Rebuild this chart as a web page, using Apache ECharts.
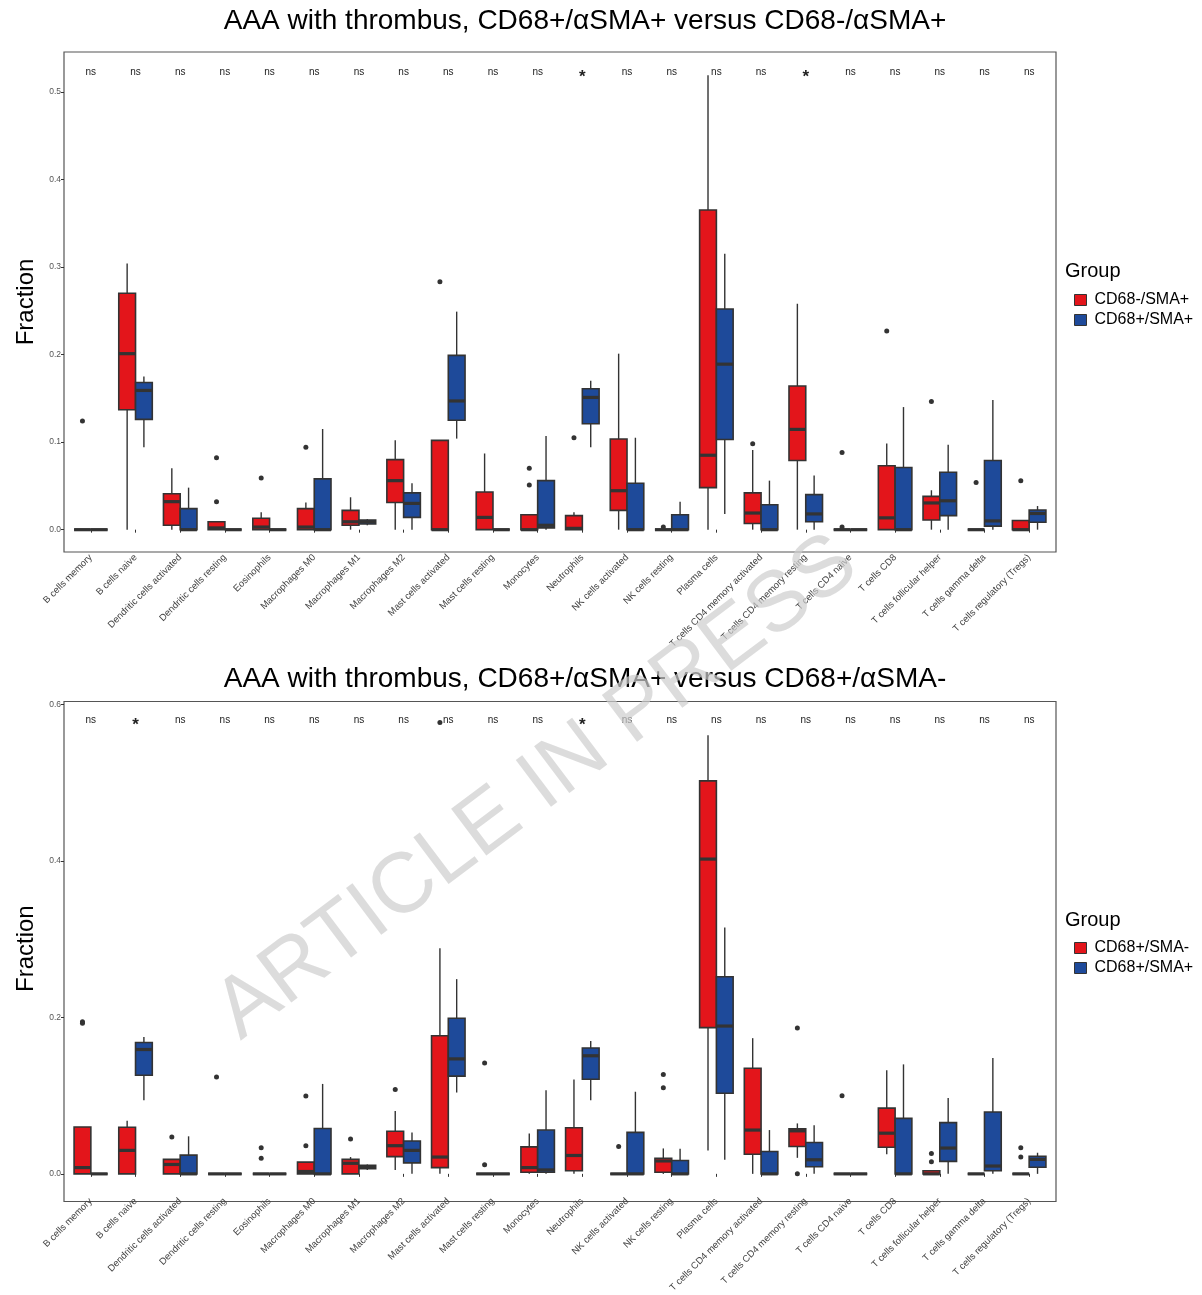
<!DOCTYPE html>
<html>
<head>
<meta charset="utf-8">
<title>AAA with thrombus - immune cell fractions</title>
<script src="https://cdn.jsdelivr.net/npm/echarts@6.0.0/dist/echarts.min.js"></script>
<style>
html, body { margin: 0; padding: 0; background: #fff; }
#chart { width: 1202px; height: 1295px; }
</style>
</head>
<body>
<div id="chart"></div>
<script>
// cell types on the x axis (same for both panels)
var cellTypes = ['B cells memory', 'B cells naive', 'Dendritic cells activated', 'Dendritic cells resting',
  'Eosinophils', 'Macrophages M0', 'Macrophages M1', 'Macrophages M2', 'Mast cells activated',
  'Mast cells resting', 'Monocytes', 'Neutrophils', 'NK cells activated', 'NK cells resting',
  'Plasma cells', 'T cells CD4 memory activated', 'T cells CD4 memory resting', 'T cells CD4 naive',
  'T cells CD8', 'T cells follicular helper', 'T cells gamma delta', 'T cells regulatory (Tregs)'];

// significance labels
var sigTop = ['ns','ns','ns','ns','ns','ns','ns','ns','ns','ns','ns','*','ns','ns','ns','ns','*','ns','ns','ns','ns','ns'];
var sigBottom = ['ns','*','ns','ns','ns','ns','ns','ns','ns','ns','ns','*','ns','ns','ns','ns','ns','ns','ns','ns','ns','ns'];

// box stats per cell type: [min, Q1, median, Q3, max]
// CD68+/SMA+ (blue, shared by both panels)
var boxPosPos = [
  [0, 0, 0, 0, 0], [0.094, 0.126, 0.159, 0.168, 0.175], [0, 0, 0, 0.024, 0.048], [0, 0, 0, 0, 0],
  [0, 0, 0, 0, 0], [0, 0, 0, 0.058, 0.115], [0.005, 0.0065, 0.009, 0.011, 0.012], [0, 0.014, 0.030, 0.042, 0.053],
  [0.104, 0.125, 0.147, 0.199, 0.249], [0, 0, 0, 0, 0], [0, 0.002, 0.005, 0.056, 0.107], [0.094, 0.121, 0.151, 0.161, 0.170],
  [0, 0, 0, 0.053, 0.105], [0, 0, 0, 0.017, 0.032], [0.018, 0.103, 0.189, 0.252, 0.315], [0, 0, 0, 0.0285, 0.056],
  [0, 0.009, 0.018, 0.040, 0.062], [0, 0, 0, 0, 0], [0, 0, 0, 0.071, 0.140], [0, 0.016, 0.033, 0.0655, 0.097],
  [0, 0.004, 0.010, 0.079, 0.148], [0, 0.0085, 0.0185, 0.0225, 0.027]
];
// CD68-/SMA+ (red, top panel)
var boxNegPos = [
  [0, 0, 0, 0, 0], [0, 0.137, 0.201, 0.270, 0.304], [0, 0.005, 0.032, 0.041, 0.070], [0, 0, 0.002, 0.009, 0.009],
  [0, 0, 0.003, 0.013, 0.020], [0, 0, 0.003, 0.024, 0.031], [0, 0.005, 0.009, 0.022, 0.037], [0, 0.031, 0.056, 0.080, 0.102],
  [0, 0, 0, 0.102, 0.102], [0, 0, 0.014, 0.043, 0.087], [0, 0, 0, 0.017, 0.017], [0, 0, 0.0015, 0.016, 0.020],
  [0, 0.022, 0.0445, 0.1035, 0.201], [0, 0, 0, 0, 0], [0, 0.048, 0.085, 0.365, 0.519], [0, 0.007, 0.019, 0.042, 0.091],
  [0, 0.079, 0.1145, 0.164, 0.258], [0, 0, 0, 0, 0], [0, 0, 0.0135, 0.073, 0.0985], [0, 0.011, 0.0305, 0.038, 0.045],
  [0, 0, 0, 0, 0], [0, 0, 0, 0.0105, 0.0105]
];
// CD68+/SMA- (red, bottom panel)
var boxPosNeg = [
  [0, 0, 0.008, 0.060, 0.060], [0, 0, 0.030, 0.0595, 0.068], [0, 0, 0.012, 0.0185, 0.0185], [0, 0, 0, 0, 0],
  [0, 0, 0, 0, 0], [0, 0, 0.003, 0.015, 0.015], [0, 0, 0.0135, 0.0185, 0.0215], [0.005, 0.022, 0.036, 0.0545, 0.0805],
  [0, 0.008, 0.0215, 0.1765, 0.2885], [0, 0, 0, 0, 0], [0, 0.002, 0.008, 0.0345, 0.0515], [0, 0.004, 0.0235, 0.059, 0.1205],
  [0, 0, 0, 0, 0], [0, 0.002, 0.0165, 0.020, 0.0325], [0.030, 0.187, 0.4025, 0.5025, 0.561], [0, 0.025, 0.056, 0.135, 0.1735],
  [0.0205, 0.035, 0.055, 0.0575, 0.0645], [0, 0, 0, 0, 0], [0.025, 0.034, 0.052, 0.084, 0.1325], [0, 0, 0, 0.004, 0.004],
  [0, 0, 0, 0, 0], [0, 0, 0, 0, 0]
];

// outliers: [cell type index, value]
var outNegPos = [[0, 0.124], [3, 0.082], [3, 0.032], [4, 0.059], [5, 0.094], [8, 0.283], [10, 0.070], [10, 0.051],
  [11, 0.105], [13, 0.003], [15, 0.098], [17, 0.088], [17, 0.003], [18, 0.227], [19, 0.1465], [20, 0.054], [21, 0.056]];
var outPosNeg = [[0, 0.1945], [0, 0.1925], [2, 0.047], [3, 0.124], [4, 0.0335], [4, 0.020], [5, 0.0995], [5, 0.036],
  [6, 0.0445], [7, 0.108], [8, 0.577], [9, 0.1418], [9, 0.0118], [12, 0.035], [13, 0.127], [13, 0.110],
  [16, 0.1865], [16, 0], [17, 0.100], [19, 0.026], [19, 0.0155], [21, 0.0335], [21, 0.0215]];

var yTicksTop = [0, 0.1, 0.2, 0.3, 0.4, 0.5];
var yTicksBottom = [0, 0.2, 0.4, 0.6];

var RED = '#E3151B', BLUE = '#1E4A9A', LINE = '#333333';
var FONT = 'Liberation Sans, Arial, Helvetica, sans-serif';

// each box takes 0.375 of a category (ggplot dodge of width 0.75)
function boxItem(side) {
  return function (params, api) {
    var cat = api.value(0);
    var half = api.size([1, 0])[0] * 0.1875;
    var cx = api.coord([cat, 0])[0] + side * half;
    var p = [1, 2, 3, 4, 5].map(function (i) { return api.coord([cat, api.value(i)])[1]; });
    var ls = { stroke: LINE, lineWidth: 1.4 };
    return {
      type: 'group',
      children: [
        { type: 'line', shape: { x1: cx, y1: p[0], x2: cx, y2: p[1] }, style: ls },
        { type: 'line', shape: { x1: cx, y1: p[3], x2: cx, y2: p[4] }, style: ls },
        { type: 'rect', shape: { x: cx - half, y: p[3], width: half * 2, height: p[1] - p[3] },
          style: { fill: api.visual('color'), stroke: LINE, lineWidth: 1.6 } },
        { type: 'line', shape: { x1: cx - half, y1: p[2], x2: cx + half, y2: p[2] },
          style: { stroke: LINE, lineWidth: 3.2 } }
      ]
    };
  };
}

function dotItem(side) {
  return function (params, api) {
    var cat = api.value(0);
    var half = api.size([1, 0])[0] * 0.1875;
    var pt = api.coord([cat, api.value(1)]);
    return { type: 'circle', shape: { cx: pt[0] + side * half, cy: pt[1], r: 2.5 }, style: { fill: LINE } };
  };
}

function sigItem(labels, level) {
  return function (params, api) {
    var i = api.value(0);
    var pt = api.coord([i, level]);
    var star = labels[i] === '*';
    return {
      type: 'text', x: pt[0], y: pt[1] + (star ? 6 : 1),
      style: { text: labels[i], align: 'center', verticalAlign: 'middle', fill: '#222',
        fontSize: star ? 17 : 10, fontWeight: star ? 'bold' : 'normal', fontFamily: FONT }
    };
  };
}

function rows(boxes) { return boxes.map(function (b, i) { return [i].concat(b); }); }
var catIdx = cellTypes.map(function (c, i) { return [i]; });

function xAxisFor(grid) {
  return {
    type: 'category', gridIndex: grid, data: cellTypes,
    axisLine: { show: false },
    axisTick: { show: true, alignWithLabel: true, length: 3, lineStyle: { color: LINE } },
    axisLabel: { rotate: 45, interval: 0, fontSize: 9.5, color: '#444', margin: 4, fontFamily: FONT },
    splitLine: { show: false }
  };
}
function yAxisFor(grid, min, max, ticks) {
  return {
    type: 'value', gridIndex: grid, min: min, max: max, offset: 4.5,
    name: 'Fraction', nameLocation: 'middle', nameGap: 26,
    nameTextStyle: { fontSize: 24, color: '#000', fontFamily: FONT },
    axisLine: { show: false },
    axisTick: { show: true, length: 3, customValues: ticks, lineStyle: { color: LINE } },
    axisLabel: { customValues: ticks, fontSize: 8.5, color: '#555', margin: 3, fontFamily: FONT,
      formatter: function (v) { return v.toFixed(1); } },
    splitLine: { show: false }
  };
}

var chart = echarts.init(document.getElementById('chart'), null, { renderer: 'canvas' });
var option = {
  backgroundColor: '#fff',
  animation: false,
  textStyle: { fontFamily: FONT },
  title: [
    { text: 'AAA with thrombus, CD68+/\u03b1SMA+ versus CD68-/\u03b1SMA+', left: 580, top: 2, textAlign: 'center',
      textStyle: { fontSize: 28, fontWeight: 'normal', color: '#000', fontFamily: FONT } },
    { text: 'AAA with thrombus, CD68+/\u03b1SMA+ versus CD68+/\u03b1SMA-', left: 580, top: 660, textAlign: 'center',
      textStyle: { fontSize: 28, fontWeight: 'normal', color: '#000', fontFamily: FONT } },
    { text: 'Group', left: 1060, top: 256, textStyle: { fontSize: 20, fontWeight: 'normal', color: '#000', fontFamily: FONT } },
    { text: 'Group', left: 1060, top: 905, textStyle: { fontSize: 20, fontWeight: 'normal', color: '#000', fontFamily: FONT } }
  ],
  legend: [
    { data: ['CD68-/SMA+', 'CD68+/SMA+'], orient: 'vertical', left: 1074, top: 292, padding: 0,
      icon: 'rect', itemWidth: 12, itemHeight: 11, itemGap: 4, selectedMode: false,
      itemStyle: { borderColor: LINE, borderWidth: 1 },
      textStyle: { fontSize: 16, color: '#000', fontFamily: FONT, padding: [0, 0, 0, 3] } },
    { data: ['CD68+/SMA-', 'CD68+/SMA+'], orient: 'vertical', left: 1074, top: 940, padding: 0,
      icon: 'rect', itemWidth: 12, itemHeight: 11, itemGap: 4, selectedMode: false,
      itemStyle: { borderColor: LINE, borderWidth: 1 },
      textStyle: { fontSize: 16, color: '#000', fontFamily: FONT, padding: [0, 0, 0, 3] } }
  ],
  grid: [
    { left: 64, top: 52, width: 992, height: 500, show: true, borderColor: '#555', borderWidth: 1.2, backgroundColor: 'transparent' },
    { left: 68.5, top: 52, width: 983, height: 500 },
    { left: 64, top: 701.5, width: 992, height: 500, show: true, borderColor: '#555', borderWidth: 1.2, backgroundColor: 'transparent' },
    { left: 68.5, top: 701.5, width: 983, height: 500 }
  ],
  xAxis: [xAxisFor(1), xAxisFor(3)],
  yAxis: [yAxisFor(1, -0.0255, 0.5455, yTicksTop), yAxisFor(3, -0.028, 0.604, yTicksBottom)],
  series: [
    { type: 'custom', name: 'CD68-/SMA+', xAxisIndex: 0, yAxisIndex: 0, itemStyle: { color: RED },
      renderItem: boxItem(-1), encode: { x: 0, y: [1, 2, 3, 4, 5] }, data: rows(boxNegPos) },
    { type: 'custom', name: 'CD68+/SMA+', xAxisIndex: 0, yAxisIndex: 0, itemStyle: { color: BLUE },
      renderItem: boxItem(1), encode: { x: 0, y: [1, 2, 3, 4, 5] }, data: rows(boxPosPos) },
    { type: 'custom', name: 'CD68-/SMA+', xAxisIndex: 0, yAxisIndex: 0, itemStyle: { color: RED },
      renderItem: dotItem(-1), encode: { x: 0, y: 1 }, data: outNegPos, z: 3 },
    { type: 'custom', xAxisIndex: 0, yAxisIndex: 0, renderItem: sigItem(sigTop, 0.523),
      encode: { x: 0 }, data: catIdx, silent: true },

    { type: 'custom', name: 'CD68+/SMA-', xAxisIndex: 1, yAxisIndex: 1, itemStyle: { color: RED },
      renderItem: boxItem(-1), encode: { x: 0, y: [1, 2, 3, 4, 5] }, data: rows(boxPosNeg) },
    { type: 'custom', name: 'CD68+/SMA+', xAxisIndex: 1, yAxisIndex: 1, itemStyle: { color: BLUE },
      renderItem: boxItem(1), encode: { x: 0, y: [1, 2, 3, 4, 5] }, data: rows(boxPosPos) },
    { type: 'custom', name: 'CD68+/SMA-', xAxisIndex: 1, yAxisIndex: 1, itemStyle: { color: RED },
      renderItem: dotItem(-1), encode: { x: 0, y: 1 }, data: outPosNeg, z: 3 },
    { type: 'custom', xAxisIndex: 1, yAxisIndex: 1, renderItem: sigItem(sigBottom, 0.581),
      encode: { x: 0 }, data: catIdx, silent: true }
  ],
  graphic: [
    { type: 'text', x: 537, y: 788, rotation: 37 * Math.PI / 180, z: 100, silent: true,
      style: { text: 'ARTICLE IN PRESS', fontSize: 85, fontFamily: FONT, fill: 'rgba(205,205,205,0.7)',
        align: 'center', verticalAlign: 'middle' } }
  ]
};
chart.setOption(option);
</script>
</body>
</html>
